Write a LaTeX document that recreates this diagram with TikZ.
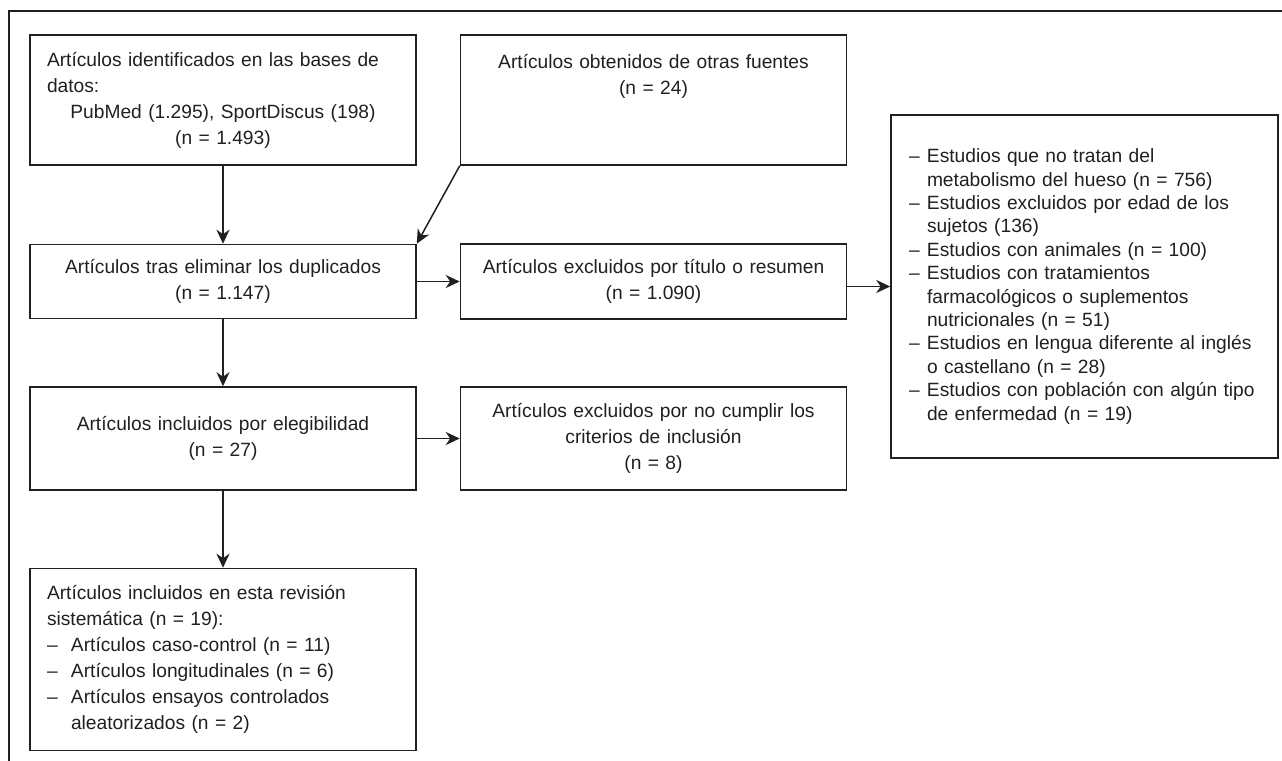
\documentclass[tikz,border=0pt]{standalone}
\usepackage{fontspec}
\setmainfont{Liberation Sans}
\usetikzlibrary{positioning,arrows.meta}
\definecolor{trazo}{RGB}{35,31,32}
\newcommand{\raya}[2][0pt]{\hspace*{#1}\makebox[#2][l]{–}}

\begin{document}
\begin{tikzpicture}[x=0.5pt,y=-0.5pt,>={Stealth[length=7pt,width=6.5pt,inset=2.2pt]},
    caja/.style={draw=trazo,line width=0.75pt,text=trazo,text width=176pt,inner xsep=8.5pt,inner ysep=0pt,
        align=center,font=\fontsize{9.6}{13}\selectfont},
    lista/.style={caja,align=left,text width=193.5pt,inner xsep=0pt,font=\fontsize{9.6}{11.7}\selectfont},
    flecha/.style={->,color=trazo,line width=0.75pt}]
    \useasboundingbox (0,0) rectangle (1282,761);
    \draw[trazo,line width=1.2pt] (9,761) -- (9,11) -- (1282,11);

    \node[caja,minimum height=65pt] (ident) at (223,100)
        {\makebox[176pt][s]{Artículos identificados en las bases de}\\
         \makebox[176pt][l]{datos:}\\ PubMed (1.295), SportDiscus (198)\\ (n = 1.493)};
    \node[caja,minimum height=65pt] (otras) [right=21.5pt of ident]
        {Artículos obtenidos de otras fuentes\\ (n = 24)\\ \mbox{}\\ \mbox{}};
    \node[caja,minimum height=37pt] (elim) [below=39pt of ident]
        {Artículos tras eliminar los duplicados\\ (n = 1.147)};
    \node[caja,minimum height=37.5pt] (excl) [right=21.5pt of elim]
        {Artículos excluidos por título o resumen\\ (n = 1.090)};
    \node[lista,minimum height=171.5pt] (motivos) [right=21.5pt of excl,yshift=-2.5pt]
        {\raya[9pt]{9pt}Estudios que no tratan del\\
         \hspace*{18pt}metabolismo del hueso (n = 756)\\
         \raya[9pt]{9pt}Estudios excluidos por edad de los\\
         \hspace*{18pt}sujetos (136)\\
         \raya[9pt]{9pt}Estudios con animales (n = 100)\\
         \raya[9pt]{9pt}Estudios con tratamientos\\
         \hspace*{18pt}farmacológicos o suplementos\\
         \hspace*{18pt}nutricionales (n = 51)\\
         \raya[9pt]{9pt}Estudios en lengua diferente al inglés\\
         \hspace*{18pt}o castellano (n = 28)\\
         \raya[9pt]{9pt}Estudios con población con algún tipo\\
         \hspace*{18pt}de enfermedad (n = 19)};
    \node[caja,minimum height=51.5pt] (eleg) [below=33.5pt of elim]
        {Artículos incluidos por elegibilidad\\ (n = 27)};
    \node[caja,minimum height=51.5pt] (crit) [right=21.5pt of eleg]
        {Artículos excluidos por no cumplir los\\ criterios de inclusión\\ (n = 8)};
    \node[caja,align=left,minimum height=91pt] (final) [below=38.5pt of eleg]
        {Artículos incluidos en esta revisión\\
         sistemática (n = 19):\\
         \raya{12pt}Artículos caso-control (n = 11)\\
         \raya{12pt}Artículos longitudinales (n = 6)\\
         \raya{12pt}Artículos ensayos controlados\\
         \hspace*{12pt}aleatorizados (n = 2)};

    \path[flecha] (ident) edge (elim)
        (otras.south west) edge (elim.north east)
        (elim) edge (excl)
        (excl.east |- motivos.west) edge (motivos.west)
        (elim) edge (eleg)
        (eleg) edge (crit)
        (eleg) edge (final);
\end{tikzpicture}
\end{document}
